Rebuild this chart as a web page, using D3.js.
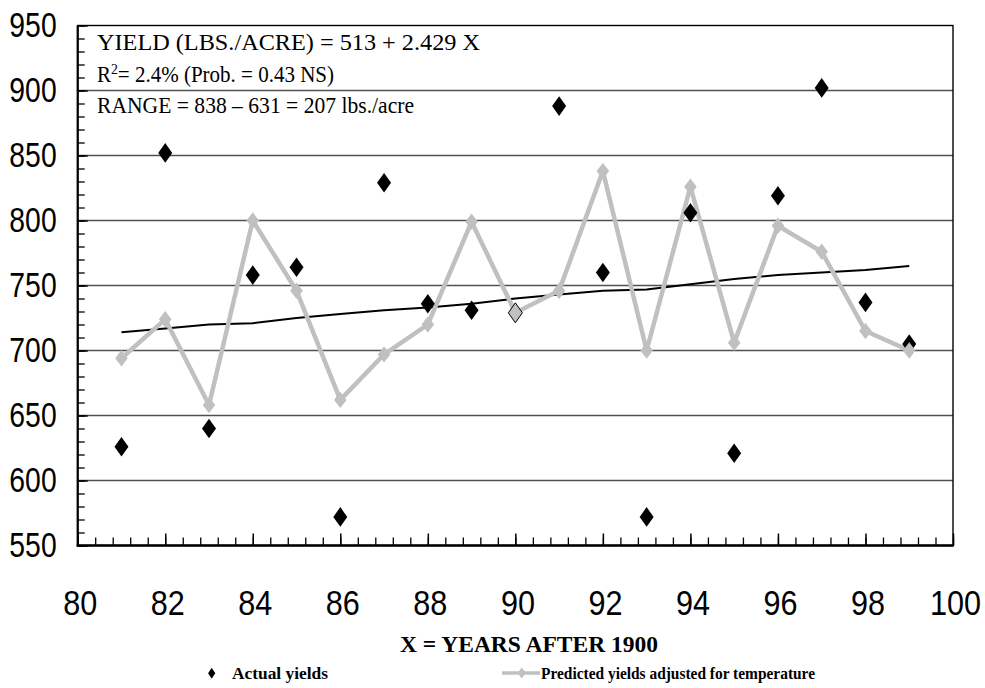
<!DOCTYPE html>
<html>
<head>
<meta charset="utf-8">
<script src="https://cdn.jsdelivr.net/npm/d3@7"></script>
<style>
  body { margin: 0; background: #fff; }
  text { fill: #000; }
</style>
</head>
<body>
<svg id="chart" width="985" height="688"></svg>
<script>
// years after 1900
const years = [81, 82, 83, 84, 85, 86, 87, 88, 89, 90, 91, 92, 93, 94, 95, 96, 97, 98, 99];
const actualYields = [626, 852, 640, 758, 764, 572, 829, 736, 731, 729, 888, 760, 572, 806, 621, 819, 902, 737, 705];
const predictedYields = [694, 724, 658, 800, 746, 662, 697, 720, 799, 729, 746, 838, 700, 826, 706, 796, 776, 715, 700];
const trendYields = [714, 717, 720, 721, 725, 728, 731, 733, 736, 740, 743, 746, 747, 751, 755, 758, 760, 762, 765];
const xTickValues = [80, 82, 84, 86, 88, 90, 92, 94, 96, 98, 100];
const yTickValues = [550, 600, 650, 700, 750, 800, 850, 900, 950];
const highlightYear = 90;

const svg = d3.select("#chart");

const x = d3.scaleLinear().domain([80, 100]).range([77.7, 953]);
const y = d3.scaleLinear().domain([550, 950]).range([545.5, 25.5]);

const plotLeft = x.range()[0], plotRight = x.range()[1];
const plotBottom = y.range()[0], plotTop = y.range()[1];

function diamond(cx, cy, hw, hh) {
    return `M${cx},${cy - hh}L${cx + hw},${cy}L${cx},${cy + hh}L${cx - hw},${cy}Z`;
}

// horizontal gridlines
svg.append("g")
    .selectAll("line")
    .data(yTickValues.filter(v => v > 550 && v < 950))
    .join("line")
    .attr("x1", plotLeft).attr("x2", plotRight)
    .attr("y1", d => y(d)).attr("y2", d => y(d))
    .attr("stroke", "#505050")
    .attr("stroke-width", 1.5);

// minor ticks, y every 10 and x every 0.4
svg.append("g")
    .attr("transform", `translate(${plotLeft},0)`)
    .call(d3.axisLeft(y).tickValues(y.ticks(40)).tickSize(-7).tickFormat(""))
    .call(g => g.select(".domain").remove())
    .selectAll("line").attr("stroke", "#000").attr("stroke-width", 1.3);

svg.append("g")
    .attr("transform", `translate(0,${plotBottom})`)
    .call(d3.axisBottom(x).tickValues(d3.range(80, 100.001, 0.4)).tickSize(-8).tickFormat(""))
    .call(g => g.select(".domain").remove())
    .selectAll("line").attr("stroke", "#000").attr("stroke-width", 1.3);

// major ticks + labels (condensed sans digits)
const yAxis = svg.append("g")
    .attr("transform", `translate(${plotLeft},0)`)
    .call(d3.axisLeft(y).tickValues(yTickValues).tickSize(-10))
    .call(g => g.select(".domain").remove());
yAxis.selectAll("line").attr("stroke", "#000").attr("stroke-width", 1.5);
yAxis.selectAll("text")
    .attr("font-family", "'Liberation Sans', Arial, sans-serif")
    .attr("font-size", 35)
    .attr("fill", "#000")
    .attr("x", -26)
    .attr("dy", "0.3em")
    .attr("transform", "scale(0.81,1)");

const xAxis = svg.append("g")
    .attr("transform", `translate(0,${plotBottom})`)
    .call(d3.axisBottom(x).tickValues(xTickValues).tickSize(-12).tickPadding(44))
    .call(g => g.select(".domain").remove());
xAxis.selectAll("line").attr("stroke", "#000").attr("stroke-width", 1.5);
xAxis.selectAll("text")
    .attr("font-family", "'Liberation Sans', Arial, sans-serif")
    .attr("font-size", 36)
    .attr("fill", "#000")
    .attr("x", 2.4)
    .attr("transform", "scale(0.85,1)");

// plot frame
svg.append("rect")
    .attr("x", plotLeft).attr("y", plotTop)
    .attr("width", plotRight - plotLeft).attr("height", plotBottom - plotTop)
    .attr("fill", "none")
    .attr("stroke", "#000")
    .attr("stroke-width", 1.4);
svg.append("line")
    .attr("x1", plotLeft).attr("x2", plotLeft).attr("y1", plotTop).attr("y2", plotBottom + 1)
    .attr("stroke", "#000").attr("stroke-width", 2.2);
svg.append("line")
    .attr("x1", plotLeft - 1).attr("x2", plotRight + 0.7).attr("y1", plotBottom).attr("y2", plotBottom)
    .attr("stroke", "#000").attr("stroke-width", 2.6);

// trend line
const trend = years.map((yr, i) => ({ yr, v: trendYields[i] }));
svg.append("path")
    .datum(trend)
    .attr("fill", "none")
    .attr("stroke", "#000")
    .attr("stroke-width", 2)
    .attr("d", d3.line().x(d => x(d.yr)).y(d => y(d.v)));

// predicted line
const predicted = years.map((yr, i) => ({ yr, v: predictedYields[i] }));
svg.append("path")
    .datum(predicted)
    .attr("fill", "none")
    .attr("stroke", "#c0c0c0")
    .attr("stroke-width", 4.5)
    .attr("stroke-linejoin", "miter")
    .attr("d", d3.line().x(d => x(d.yr)).y(d => y(d.v)));

// actual yields
const actual = years.map((yr, i) => ({ yr, v: actualYields[i] }));
svg.append("g")
    .selectAll("path")
    .data(actual.filter(d => d.yr !== highlightYear))
    .join("path")
    .attr("d", d => diamond(x(d.yr), y(d.v), 7, 9.8))
    .attr("fill", "#000");

// predicted markers
svg.append("g")
    .selectAll("path")
    .data(predicted)
    .join("path")
    .attr("d", d => diamond(x(d.yr), y(d.v), 6.3, 8.2))
    .attr("fill", "#c0c0c0");

// highlighted point
svg.append("g")
    .selectAll("path")
    .data(actual.filter(d => d.yr === highlightYear))
    .join("path")
    .attr("d", d => diamond(x(d.yr), y(d.v), 7, 10))
    .attr("fill", "#c0c0c0")
    .attr("stroke", "#000")
    .attr("stroke-width", 1);

// equation text
const note = svg.append("g")
    .attr("font-family", "'Liberation Serif', 'Times New Roman', serif")
    .attr("font-size", 23)
    .style("white-space", "pre");

note.append("text")
    .attr("x", 97).attr("y", 50)
    .attr("textLength", 383)
    .attr("lengthAdjust", "spacingAndGlyphs")
    .text("YIELD (LBS./ACRE) =  513 + 2.429 X");

const r2 = note.append("text")
    .attr("x", 97).attr("y", 81.5)
    .attr("textLength", 237)
    .attr("lengthAdjust", "spacingAndGlyphs");
r2.append("tspan").text("R");
r2.append("tspan").attr("font-size", 15).attr("dy", -8).text("2");
r2.append("tspan").attr("dy", 8).text("= 2.4% (Prob. = 0.43 NS)");

note.append("text")
    .attr("x", 97).attr("y", 112.5)
    .attr("textLength", 317)
    .attr("lengthAdjust", "spacingAndGlyphs")
    .text("RANGE = 838 \u2013 631 = 207 lbs./acre");

// x axis title
svg.append("text")
    .attr("x", 529).attr("y", 652)
    .attr("text-anchor", "middle")
    .attr("font-family", "'Liberation Serif', 'Times New Roman', serif")
    .attr("font-weight", "bold")
    .attr("font-size", 24)
    .attr("textLength", 258)
    .attr("lengthAdjust", "spacingAndGlyphs")
    .text("X = YEARS AFTER 1900");

// legend
const legend = svg.append("g")
    .attr("font-family", "'Liberation Serif', 'Times New Roman', serif")
    .attr("font-weight", "bold")
    .attr("font-size", 16);

legend.append("path")
    .attr("d", diamond(211.7, 673.3, 3.6, 5.5))
    .attr("fill", "#000");
legend.append("text")
    .attr("x", 232).attr("y", 679)
    .attr("textLength", 96)
    .attr("lengthAdjust", "spacingAndGlyphs")
    .text("Actual yields");

legend.append("line")
    .attr("x1", 502).attr("x2", 540)
    .attr("y1", 673).attr("y2", 673)
    .attr("stroke", "#c0c0c0")
    .attr("stroke-width", 3.5);
legend.append("path")
    .attr("d", diamond(521.7, 673, 4, 5.5))
    .attr("fill", "#c0c0c0");
legend.append("text")
    .attr("x", 541).attr("y", 679)
    .attr("textLength", 274)
    .attr("lengthAdjust", "spacingAndGlyphs")
    .text("Predicted yields adjusted for temperature");
</script>
</body>
</html>
